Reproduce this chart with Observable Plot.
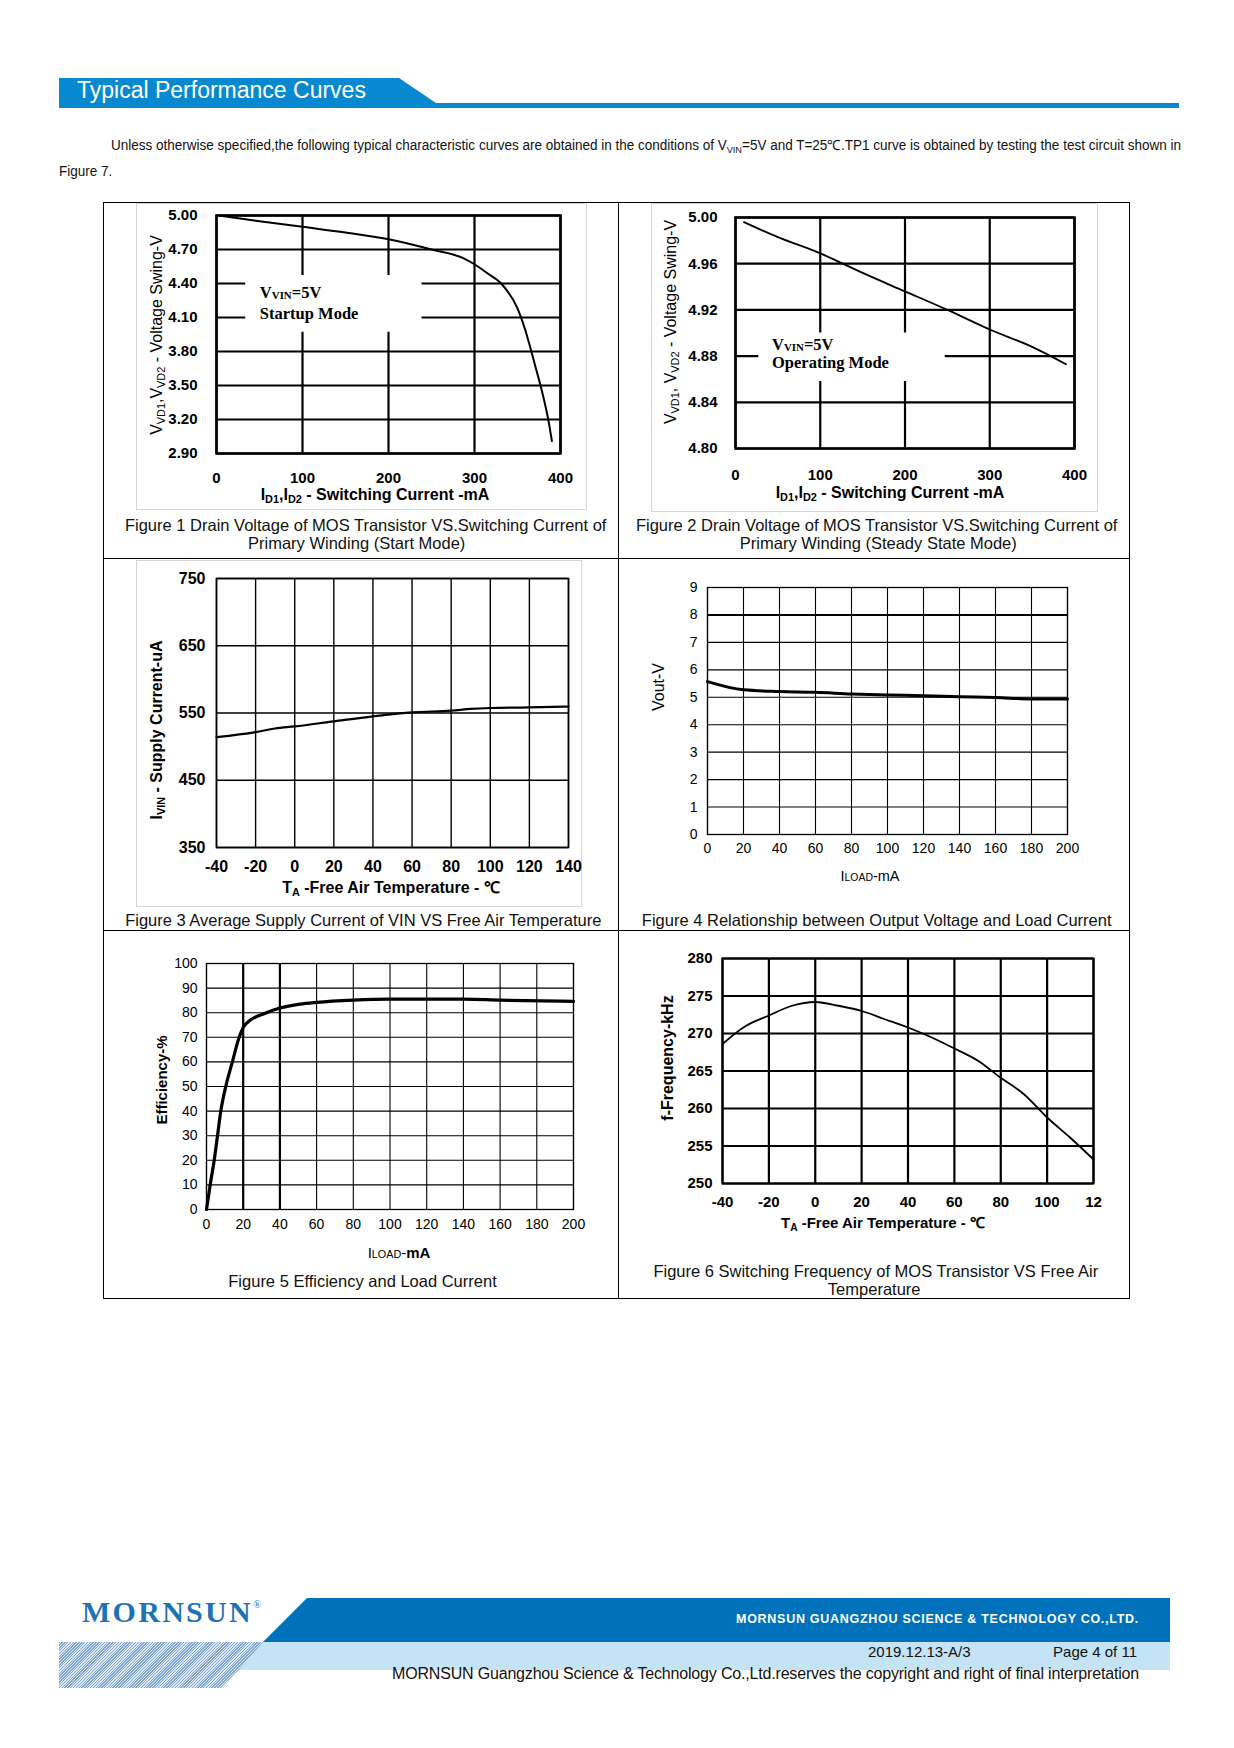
<!DOCTYPE html>
<html><head><meta charset="utf-8">
<script src="https://cdn.jsdelivr.net/npm/d3@7"></script>
<script src="https://cdn.jsdelivr.net/npm/@observablehq/plot@0.6"></script>
<style>
html,body{margin:0;padding:0;background:#fff;}
#page{position:relative;width:1234px;height:1748px;overflow:hidden;font-family:"Liberation Sans",Arial,sans-serif;color:#000;background:#fff;}
sub{font-size:0.68em;vertical-align:-0.28em;line-height:0;}
.ann sub{font-size:0.66em;vertical-align:-0.05em;}
</style></head>
<body><div id="page"></div>
<script>
// ---------------- DATA ----------------
// Figure 1 – start mode
const f1Current = [3, 50, 100, 150, 200, 250, 288, 300, 315, 331, 350, 359, 370, 380, 386, 390];
const f1Voltage = [5.00, 4.95, 4.90, 4.85, 4.79, 4.70, 4.62, 4.57, 4.49, 4.40, 4.18, 3.99, 3.69, 3.40, 3.19, 3.01];
const f1XTicks = [0, 100, 200, 300, 400];
const f1YTicks = [5.00, 4.70, 4.40, 4.10, 3.80, 3.50, 3.20, 2.90];
const f1Note = {x1: 34, x2: 239, y1: 3.97, y2: 4.47, textX: 51, line1Y: 4.313, line2Y: 4.12};

// Figure 2 – steady state mode
const f2Current = [10, 50, 100, 150, 200, 250, 300, 350, 390];
const f2Voltage = [4.996, 4.983, 4.969, 4.952, 4.936, 4.920, 4.903, 4.888, 4.873];
const f2XTicks = [0, 100, 200, 300, 400];
const f2YTicks = [5.00, 4.96, 4.92, 4.88, 4.84, 4.80];
const f2Note = {x1: 27.5, x2: 247.5, y1: 4.858, y2: 4.90, textX: 43.7, line1Y: 4.889, line2Y: 4.873};

// Figure 3 – supply current vs temperature
const f3Temp = [-40, -20, -10, 0, 20, 40, 60, 80, 90, 100, 120, 140];
const f3Current = [514, 521.5, 527, 530, 537.6, 545, 551, 553.5, 556, 557.4, 558.4, 559.5];
const f3XTicks = [-40, -20, 0, 20, 40, 60, 80, 100, 120, 140];
const f3YTicks = [350, 450, 550, 650, 750];

// Figure 4 – output voltage vs load
const f4Load = [0, 20, 40, 60, 80, 100, 120, 140, 160, 180, 200];
const f4Vout = [5.57, 5.27, 5.21, 5.18, 5.12, 5.08, 5.06, 5.02, 4.99, 4.94, 4.94];
const f4XTicks = [0, 20, 40, 60, 80, 100, 120, 140, 160, 180, 200];
const f4YTicks = [0, 1, 2, 3, 4, 5, 6, 7, 8, 9];
const f4BoldY = [8];

// Figure 5 – efficiency vs load
const f5Load = [0, 2, 4.2, 6, 7.8, 10.5, 14.1, 17.8, 20, 24, 31, 40, 51, 60, 80, 100, 140, 160, 200];
const f5Eff = [0, 10, 20, 30, 40, 50, 60, 70, 74, 77, 79.5, 81.9, 83.5, 84.2, 85.1, 85.5, 85.5, 85.1, 84.6];
const f5XTicks = [0, 20, 40, 60, 80, 100, 120, 140, 160, 180, 200];
const f5YTicks = [0, 10, 20, 30, 40, 50, 60, 70, 80, 90, 100];
const f5BoldX = [20, 40];

// Figure 6 – switching frequency vs temperature
const f6Temp = [-40, -30, -20, -10, 0, 10, 20, 30, 40, 50, 60, 70, 80, 90, 100, 110, 120];
const f6Freq = [268.6, 271.0, 272.4, 273.7, 274.2, 273.7, 273.0, 271.9, 270.8, 269.5, 268.0, 266.4, 264.1, 261.9, 258.8, 256.1, 253.2];
const f6XTicks = [-40, -20, 0, 20, 40, 60, 80, 100, 120];
const f6XLabels = ["-40", "-20", "0", "20", "40", "60", "80", "100", "12"];
const f6YTicks = [250, 255, 260, 265, 270, 275, 280];

// ---------------- HELPERS ----------------
const SANS = "'Liberation Sans', Arial, Helvetica, sans-serif";
const SERIF = "'Liberation Serif', 'Times New Roman', serif";
const page = document.getElementById("page");

function box(css) {
  const d = document.createElement("div");
  d.style.position = "absolute";
  Object.assign(d.style, css);
  page.appendChild(d);
  return d;
}
function put(html, o) {
  const d = document.createElement("div");
  d.innerHTML = html;
  const s = d.style;
  s.position = "absolute"; s.whiteSpace = "nowrap"; s.lineHeight = "1";
  s.fontSize = o.fs + "px";
  s.fontFamily = o.family || SANS;
  if (o.weight) s.fontWeight = o.weight;
  s.color = o.color || "#000";
  if (o.cls) d.className = o.cls;
  if (o.rotate) {
    s.left = o.cx + "px"; s.top = o.cy + "px";
    s.transform = "translate(-50%,-50%) rotate(-90deg)";
  } else if (o.cx !== undefined) {
    s.left = o.cx + "px"; s.top = (o.cy - o.fs / 2) + "px";
    s.transform = "translateX(-50%)";
  } else {
    const top = o.baseline !== undefined ? o.baseline - (o.serif ? 0.8375 : 0.847) * o.fs : o.cy - o.fs / 2;
    s.top = top + "px";
    if (o.right !== undefined) s.right = (1234 - o.right) + "px"; else s.left = o.left + "px";
  }
  page.appendChild(d);
  return d;
}
function fitSpacing(d, w) {
  const cur = d.getBoundingClientRect().width;
  const n = d.textContent.length;
  d.style.letterSpacing = ((w - cur) / n) + "px";
}
function fitScale(d, w) {
  const cur = d.getBoundingClientRect().width;
  d.style.transformOrigin = "0 0";
  d.style.transform = "scaleX(" + (w / cur) + ")";
}
function chart(o) {
  const ml = 70, mr = 24, mt = 12, mb = 40;
  const svg = Plot.plot({
    width: o.R - o.L + ml + mr,
    height: o.B - o.T + mt + mb,
    marginLeft: ml, marginRight: mr, marginTop: mt, marginBottom: mb,
    x: {domain: o.xDomain, label: null},
    y: {domain: o.yDomain, label: null},
    style: Object.assign({fontFamily: SANS, color: "#000", background: "transparent", overflow: "visible"}, o.font),
    marks: o.marks
  });
  svg.style.position = "absolute";
  svg.style.left = (o.L - ml) + "px";
  svg.style.top = (o.T - mt) + "px";
  svg.style.maxWidth = "none";
  page.appendChild(svg);
  const sx = svg.scale("x"), sy = svg.scale("y");
  return {px: v => o.L - ml + sx.apply(v), py: v => o.T - mt + sy.apply(v)};
}
const zipObj = (a, b) => a.map((v, i) => ({x: v, y: b[i]}));
const grid = (w) => ({stroke: "#000", strokeOpacity: 1, strokeWidth: w});
const plain = d => String(d);
const CAP = 16.5;

// ---------------- HEADER ----------------
box({left: "59px", top: "78px", width: "1120px", height: "30px", background: "#0889cf",
     clipPath: "polygon(0 0, 340px 0, 377px 25px, 1120px 25px, 1120px 30px, 0 30px)"});
put("Typical Performance Curves", {left: 77, baseline: 98.5, fs: 23, color: "#fff"});
const intro = put("Unless otherwise specified,the following typical characteristic curves are obtained in the conditions of V<sub>VIN</sub>=5V and T=25℃.TP1 curve is obtained by testing the test circuit shown in",
  {left: 111, baseline: 150, fs: 14, color: "#111"});
fitScale(intro, 1070);
const fig7 = put("Figure 7.", {left: 59, baseline: 176, fs: 14, color: "#111"});
fig7.style.transformOrigin = "0 0"; fig7.style.transform = intro.style.transform;

// ---------------- TABLE GRID ----------------
box({left: "103px", top: "202px", width: "1027px", height: "1097px", border: "1px solid #000", boxSizing: "border-box"});
box({left: "617.5px", top: "202px", width: "1px", height: "1097px", background: "#000"});
box({left: "103px", top: "558px", width: "1027px", height: "1px", background: "#000"});
box({left: "103px", top: "930px", width: "1027px", height: "1px", background: "#000"});
// light image borders of figures 1-3
box({left: "136px", top: "203px", width: "451px", height: "307px", border: "1.5px solid #d6d6d6", boxSizing: "border-box"});
box({left: "651px", top: "203px", width: "447px", height: "309px", border: "1.5px solid #d6d6d6", boxSizing: "border-box"});
box({left: "136px", top: "560px", width: "446px", height: "347px", border: "1.5px solid #d6d6d6", boxSizing: "border-box"});

// ---------------- FIGURE 1 ----------------
{
  const c = chart({L: 216, T: 215, R: 560, B: 453, xDomain: [0, 400], yDomain: [2.9, 5.0],
    font: {fontSize: "15px", fontWeight: "bold"},
    marks: [
      Plot.gridY(f1YTicks, grid(2.2)),
      Plot.gridX(f1XTicks, grid(2.2)),
      Plot.rect([f1Note], {x1: "x1", x2: "x2", y1: "y1", y2: "y2", fill: "#fff"}),
      Plot.frame({stroke: "#000", strokeWidth: 2.5}),
      Plot.line(zipObj(f1Current, f1Voltage), {x: "x", y: "y", curve: "monotone-x", stroke: "#000", strokeWidth: 2}),
      Plot.axisY(f1YTicks, {tickSize: 0, tickPadding: 19, tickFormat: d => d.toFixed(2), label: null}),
      Plot.axisX(f1XTicks, {tickSize: 0, tickPadding: 19, tickFormat: plain, label: null})
    ]});
  put("V<sub>VIN</sub>=5V", {left: c.px(f1Note.textX), cy: c.py(f1Note.line1Y), fs: 16.5, family: SERIF, weight: "bold", cls: "ann"});
  put("Startup Mode", {left: c.px(f1Note.textX), cy: c.py(f1Note.line2Y), fs: 16.5, family: SERIF, weight: "bold"});
  put("V<sub>VD1</sub>,V<sub>VD2</sub> - Voltage Swing-V", {rotate: true, cx: 157, cy: 335, fs: 16});
  put("I<sub>D1</sub>,I<sub>D2</sub> - Switching Current -mA", {cx: 375, cy: 495, fs: 16, weight: "bold"});
  put("Figure 1 Drain Voltage of MOS Transistor VS.Switching Current of", {cx: 365.7, cy: 525, fs: CAP, color: "#111"});
  put("Primary Winding (Start Mode)", {cx: 356.7, cy: 543.3, fs: CAP, color: "#111"});
}

// ---------------- FIGURE 2 ----------------
{
  const c = chart({L: 735, T: 217, R: 1074, B: 448, xDomain: [0, 400], yDomain: [4.8, 5.0],
    font: {fontSize: "15px", fontWeight: "bold"},
    marks: [
      Plot.gridY(f2YTicks, grid(2.2)),
      Plot.gridX(f2XTicks, grid(2.2)),
      Plot.rect([f2Note], {x1: "x1", x2: "x2", y1: "y1", y2: "y2", fill: "#fff"}),
      Plot.frame({stroke: "#000", strokeWidth: 2.5}),
      Plot.line(zipObj(f2Current, f2Voltage), {x: "x", y: "y", curve: "monotone-x", stroke: "#000", strokeWidth: 1.8}),
      Plot.axisY(f2YTicks, {tickSize: 0, tickPadding: 18, tickFormat: d => d.toFixed(2), label: null}),
      Plot.axisX(f2XTicks, {tickSize: 0, tickPadding: 21, tickFormat: plain, label: null})
    ]});
  put("V<sub>VIN</sub>=5V", {left: c.px(f2Note.textX), cy: c.py(f2Note.line1Y), fs: 16.5, family: SERIF, weight: "bold", cls: "ann"});
  put("Operating Mode", {left: c.px(f2Note.textX), cy: c.py(f2Note.line2Y), fs: 16.5, family: SERIF, weight: "bold"});
  put("V<sub>VD1</sub>, V<sub>VD2</sub> - Voltage Swing-V", {rotate: true, cx: 671, cy: 322, fs: 16});
  put("I<sub>D1</sub>,I<sub>D2</sub> - Switching Current -mA", {cx: 890, cy: 493, fs: 16, weight: "bold"});
  put("Figure 2 Drain Voltage of MOS Transistor VS.Switching Current of", {cx: 876.7, cy: 525, fs: CAP, color: "#111"});
  put("Primary Winding (Steady State Mode)", {cx: 878.3, cy: 543.3, fs: CAP, color: "#111"});
}

// ---------------- FIGURE 3 ----------------
{
  chart({L: 216, T: 578, R: 568, B: 847, xDomain: [-40, 140], yDomain: [350, 750],
    font: {fontSize: "16px", fontWeight: "bold"},
    marks: [
      Plot.gridY(f3YTicks, grid(1.4)),
      Plot.gridX(f3XTicks, grid(1.4)),
      Plot.frame({stroke: "#000", strokeWidth: 1.6}),
      Plot.line(zipObj(f3Temp, f3Current), {x: "x", y: "y", curve: "monotone-x", stroke: "#000", strokeWidth: 2.2}),
      Plot.axisY(f3YTicks, {tickSize: 0, tickPadding: 11, tickFormat: plain, label: null}),
      Plot.axisX(f3XTicks, {tickSize: 0, tickPadding: 13, tickFormat: plain, label: null})
    ]});
  put("I<sub>VIN</sub> - Supply Current-uA", {rotate: true, cx: 157, cy: 730, fs: 16, weight: "bold"});
  put("T<sub>A</sub> -Free Air Temperature - ℃", {cx: 391, cy: 888, fs: 16, weight: "bold"});
  put("Figure 3 Average Supply Current of VIN VS Free Air Temperature", {cx: 363.3, cy: 920.7, fs: CAP, color: "#111"});
}

// ---------------- FIGURE 4 ----------------
{
  chart({L: 707, T: 587, R: 1067, B: 834, xDomain: [0, 200], yDomain: [0, 9],
    font: {fontSize: "14px"},
    marks: [
      Plot.gridY(f4YTicks, grid(1.1)),
      Plot.gridY(f4BoldY, grid(2)),
      Plot.gridX(f4XTicks, grid(1.1)),
      Plot.frame({stroke: "#000", strokeWidth: 1.3}),
      Plot.line(zipObj(f4Load, f4Vout), {x: "x", y: "y", curve: "monotone-x", stroke: "#000", strokeWidth: 3}),
      Plot.axisY(f4YTicks, {tickSize: 0, tickPadding: 10, tickFormat: plain, label: null}),
      Plot.axisX(f4XTicks, {tickSize: 0, tickPadding: 9, tickFormat: plain, label: null})
    ]});
  put("Vout-V", {rotate: true, cx: 659, cy: 687, fs: 16});
  put("I<span style='font-size:0.72em'>LOAD</span>-mA", {cx: 870, cy: 876, fs: 14.5});
  put("Figure 4 Relationship between Output Voltage and Load Current", {cx: 876.7, cy: 920, fs: CAP, color: "#111"});
}

// ---------------- FIGURE 5 ----------------
{
  chart({L: 206, T: 963, R: 573, B: 1209, xDomain: [0, 200], yDomain: [0, 100],
    font: {fontSize: "14px"},
    marks: [
      Plot.gridY(f5YTicks, grid(1.1)),
      Plot.gridX(f5XTicks, grid(1.1)),
      Plot.gridX(f5BoldX, grid(2.2)),
      Plot.frame({stroke: "#000", strokeWidth: 1.3}),
      Plot.line(zipObj(f5Load, f5Eff), {x: "x", y: "y", curve: "monotone-x", stroke: "#000", strokeWidth: 3.2}),
      Plot.axisY(f5YTicks, {tickSize: 0, tickPadding: 9, tickFormat: plain, label: null}),
      Plot.axisX(f5XTicks, {tickSize: 0, tickPadding: 10, tickFormat: plain, label: null})
    ]});
  put("Efficiency-%", {rotate: true, cx: 161, cy: 1080, fs: 15, weight: "bold"});
  put("I<span style='font-size:0.72em'>LOAD</span>-<b>mA</b>", {cx: 399, cy: 1252.7, fs: 15});
  put("Figure 5 Efficiency and Load Current", {cx: 362.5, cy: 1281.7, fs: CAP, color: "#111"});
}

// ---------------- FIGURE 6 ----------------
{
  const f6Map = new Map(f6XTicks.map((t, i) => [t, f6XLabels[i]]));
  chart({L: 722, T: 958, R: 1093, B: 1183, xDomain: [-40, 120], yDomain: [250, 280],
    font: {fontSize: "15px", fontWeight: "bold"},
    marks: [
      Plot.gridY(f6YTicks, grid(1.8)),
      Plot.gridX(f6XTicks, grid(2.2)),
      Plot.frame({stroke: "#000", strokeWidth: 2}),
      Plot.line(zipObj(f6Temp, f6Freq), {x: "x", y: "y", curve: "monotone-x", stroke: "#000", strokeWidth: 1.8}),
      Plot.axisY(f6YTicks, {tickSize: 0, tickPadding: 10, tickFormat: plain, label: null}),
      Plot.axisX(f6XTicks, {tickSize: 0, tickPadding: 13, tickFormat: d => f6Map.get(d), label: null})
    ]});
  put("f-Frequency-kHz", {rotate: true, cx: 668, cy: 1058, fs: 16, weight: "bold"});
  put("T<sub>A</sub> -Free Air Temperature - ℃", {cx: 883, cy: 1222.7, fs: 15, weight: "bold"});
  put("Figure 6 Switching Frequency of MOS Transistor VS Free Air", {cx: 875.8, cy: 1271.7, fs: CAP, color: "#111"});
  put("Temperature", {cx: 874.2, cy: 1289.3, fs: CAP, color: "#111"});
}

// ---------------- FOOTER ----------------
box({left: "263px", top: "1598px", width: "907px", height: "44px", background: "#0071bb",
     clipPath: "polygon(44px 0, 907px 0, 907px 44px, 0 44px)"});
box({left: "235px", top: "1642px", width: "935px", height: "28px", background: "#c4e3f5",
     clipPath: "polygon(28px 0, 935px 0, 935px 28px, 0 28px)"});
box({left: "59px", top: "1642px", width: "204px", height: "46px",
     background: "repeating-linear-gradient(135deg, #7fa6cc 0px, #7fa6cc 1px, #dde8f3 1px, #dde8f3 2px)",
     clipPath: "polygon(0 0, 204px 0, 164px 46px, 0 46px)"});
put("<span id='logoTxt'>MORNSUN</span><sup style='font-size:11px;vertical-align:14px;font-weight:normal'>®</sup>",
  {left: 82, baseline: 1622.3, fs: 30, family: SERIF, weight: "bold", color: "#1d73b4", serif: true});
fitSpacing(document.getElementById("logoTxt"), 171);
const comp = put("MORNSUN GUANGZHOU SCIENCE &amp; TECHNOLOGY CO.,LTD.", {right: 1139, baseline: 1624, fs: 12.5, weight: "bold", color: "#fff"});
fitSpacing(comp, 403);
put("2019.12.13-A/3", {left: 868, baseline: 1656.7, fs: 15, color: "#111"});
put("Page 4 of 11", {right: 1137, baseline: 1656.7, fs: 15, color: "#111"});
const copy = put("MORNSUN Guangzhou Science &amp; Technology Co.,Ltd.reserves the copyright and right of final interpretation",
  {right: 1139, baseline: 1680, fs: 16, color: "#111"});
fitSpacing(copy, 747);
</script>
</body></html>
